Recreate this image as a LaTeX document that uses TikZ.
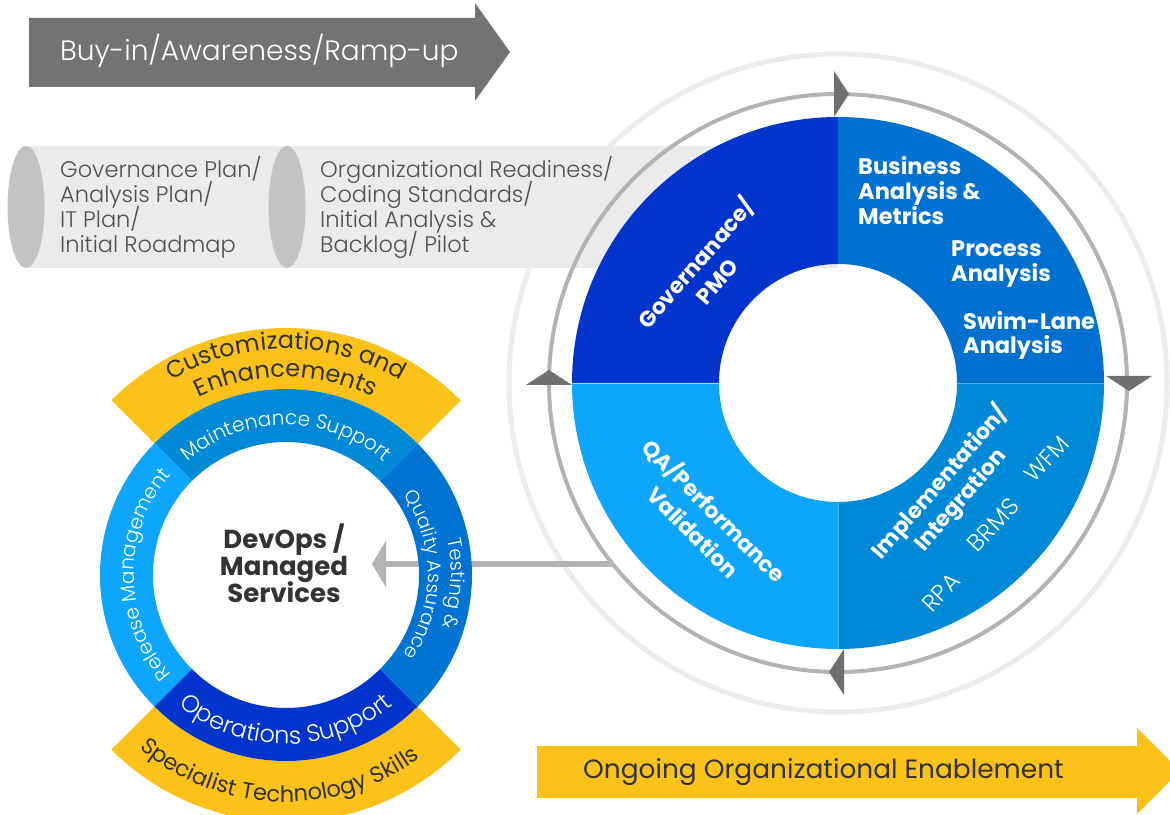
\documentclass[tikz,border=0pt]{standalone}
\usepackage{fontspec}
\setmainfont{Poppins}
\newfontfamily\lightfont{Poppins Light}
\usetikzlibrary{calc,decorations.text,arrows.meta}
\definecolor{grayarrow}{HTML}{737373}
\definecolor{band}{HTML}{EBEBEB}
\definecolor{cylend}{HTML}{C3C3C3}
\definecolor{cyltext}{HTML}{505050}
\definecolor{lightring}{HTML}{ECECEC}
\definecolor{midring}{HTML}{B3B3B3}
\definecolor{ringtip}{HTML}{6F6F6F}
\definecolor{conn}{HTML}{B3B3B3}
\definecolor{yel}{HTML}{FBC219}
\definecolor{dark}{HTML}{333333}
\definecolor{qTL}{HTML}{0034CC}
\definecolor{qTR}{HTML}{0071D1}
\definecolor{qBR}{HTML}{0089D6}
\definecolor{qBL}{HTML}{0EA5FD}
\definecolor{sRT}{HTML}{0073D3}
\tikzset{
  cyltxt/.style={anchor=base west, inner sep=0, text=cyltext, font=\lightfont\fontsize{22.5}{25}\selectfont},
  quadtxt/.style={anchor=base west, inner sep=0, text=white, font=\bfseries\fontsize{22.5}{25}\selectfont},
  rottxt/.style={inner sep=0, text=white, align=center},
  devtxt/.style={anchor=base, inner sep=0, text=dark, font=\bfseries\fontsize{26}{27}\selectfont},
}
\begin{document}
\begin{tikzpicture}[x=1pt,y=1pt]
\useasboundingbox (0,0) rectangle (1170,814);
\coordinate (B) at (838,431);
\coordinate (S) at (286,239);

% ---- cylinder band
\fill[band] (26,546) rectangle (838,668);
\fill[cylend] (26,607) ellipse [x radius=18.5, y radius=61];
\fill[cylend] (287,607) ellipse [x radius=18.5, y radius=61];

% ---- top arrow
\fill[grayarrow] (29,727) -- (475,727) -- (475,713) -- (510,762) -- (475,811) -- (475,796) -- (29,796) -- cycle;
\node[anchor=base west, inner sep=0, text=white, font=\lightfont\fontsize{28}{28}\selectfont] (buyin) at (60,753) {Buy-in/Awareness/Ramp-up};

% ---- bottom arrow
\fill[yel] (537,16) -- (1137,16) -- (1137,0) -- (1180,43) -- (1137,86) -- (1137,68) -- (537,68) -- cycle;
\node[anchor=base west, inner sep=0, text=dark, font=\fontsize{26.4}{26}\selectfont] (ongoing) at (583,35) {Ongoing Organizational Enablement};

% ---- outer light ring
\draw[lightring, line width=5] (B) circle[radius=329];

% ---- cylinder texts
\node[cyltxt] (ca1) at (60,636) {Governance Plan/};
\node[cyltxt] (ca2) at (60,611) {Analysis Plan/};
\node[cyltxt] (ca3) at (60,586) {IT Plan/};
\node[cyltxt] (ca4) at (60,561) {Initial Roadmap};
\node[cyltxt] (cb1) at (320,636) {Organizational Readiness/};
\node[cyltxt] (cb2) at (320,611) {Coding Standards/};
\node[cyltxt] (cb3) at (320,586) {Initial Analysis \&};
\node[cyltxt] (cb4) at (320,561) {Backlog/ Pilot};

% ---- connector
\coordinate (ringpt) at (613,250);
\coordinate (devtip) at (372,250);
\draw[conn, line width=6, -{Triangle[length=14pt,width=46pt]}] (ringpt) -- (devtip);

% ---- small circle: yellow bands
\fill[yel] ($(S)+(45:247)$) arc[start angle=45,end angle=135,radius=247] -- ($(S)+(135:186)$) arc[start angle=135,end angle=45,radius=186] -- cycle;
\fill[yel] ($(S)+(225:247)$) arc[start angle=225,end angle=315,radius=247] -- ($(S)+(315:186)$) arc[start angle=315,end angle=225,radius=186] -- cycle;
% ring segments
\fill[qBR] ($(S)+(45:186)$) arc[start angle=45,end angle=135,radius=186] -- ($(S)+(135:133)$) arc[start angle=135,end angle=45,radius=133] -- cycle;
\fill[qBL] ($(S)+(135:186)$) arc[start angle=135,end angle=225,radius=186] -- ($(S)+(225:133)$) arc[start angle=225,end angle=135,radius=133] -- cycle;
\fill[qTL] ($(S)+(225:186)$) arc[start angle=225,end angle=315,radius=186] -- ($(S)+(315:133)$) arc[start angle=315,end angle=225,radius=133] -- cycle;
\fill[sRT] ($(S)+(315:186)$) arc[start angle=315,end angle=405,radius=186] -- ($(S)+(45:133)$) arc[start angle=45,end angle=-45,radius=133] -- cycle;

% curved labels
\path[decorate, decoration={text along path, text align=center, text color=dark,
  text={|\fontsize{24}{24}\selectfont|Customizations and}}]
  ($(S)+(150:226)$) arc[start angle=150,end angle=30,radius=226];
\path[decorate, decoration={text along path, text align=center, text color=dark,
  text={|\fontsize{24}{24}\selectfont|Enhancements}}]
  ($(S)+(150:198)$) arc[start angle=150,end angle=30,radius=198];
\path[decorate, decoration={text along path, text align=center, text color=white,
  text={|\lightfont\fontsize{20}{20}\selectfont|Maintenance Support}}]
  ($(S)+(150:150)$) arc[start angle=150,end angle=30,radius=150];
\path[decorate, decoration={text along path, text align=center, text color=white,
  text={|\lightfont\fontsize{20}{20}\selectfont|Release Management}}]
  ($(S)+(230:152)$) arc[start angle=230,end angle=130,radius=152];
\path[decorate, decoration={text along path, text align=center, text color=white,
  text={|\lightfont\fontsize{19.5}{19.5}\selectfont|Testing {\&}}}]
  ($(S)+(47:165)$) arc[start angle=47,end angle=-53,radius=165];
\path[decorate, decoration={text along path, text align=center, text color=white,
  text={|\lightfont\fontsize{19}{19}\selectfont|Quality Assurance}}]
  ($(S)+(50:142)$) arc[start angle=50,end angle=-50,radius=142];
\path[decorate, decoration={text along path, text align=center, text color=white,
  text={|\lightfont\fontsize{24}{24}\selectfont|Operations Support}}]
  ($(S)+(220:169)$) arc[start angle=220,end angle=320,radius=169];
\path[decorate, decoration={text along path, text align=center, text color=dark,
  text={|\fontsize{22.5}{22.5}\selectfont|Specialist Technology Skills}}]
  ($(S)+(218:227)$) arc[start angle=218,end angle=318,radius=227];

% center text
\node[devtxt] (dev1) at (284,265) {DevOps /};
\node[devtxt] (dev2) at (284,238) {Managed};
\node[devtxt] (dev3) at (284,211) {Services};

% ---- middle gray ring with arrowheads
\draw[midring, line width=4] (B) circle[radius=289];
\fill[ringtip] (834,743) -- (834,697) -- (849,720) -- cycle;
\fill[ringtip] (1106,438) -- (1152,438) -- (1129,423) -- cycle;
\fill[ringtip] (844,165) -- (844,119) -- (829,142) -- cycle;
\fill[ringtip] (526,429) -- (572,429) -- (549,444) -- cycle;

% ---- quadrants
\fill[qTL] ($(B)+(90:266)$) arc[start angle=90,end angle=180,radius=266] -- ($(B)+(180:119)$) arc[start angle=180,end angle=90,radius=119] -- cycle;
\fill[qTR] ($(B)+(0:266)$) arc[start angle=0,end angle=90,radius=266] -- ($(B)+(90:119)$) arc[start angle=90,end angle=0,radius=119] -- cycle;
\fill[qBR] ($(B)+(270:266)$) arc[start angle=270,end angle=360,radius=266] -- ($(B)+(0:119)$) arc[start angle=0,end angle=-90,radius=119] -- cycle;
\fill[qBL] ($(B)+(180:266)$) arc[start angle=180,end angle=270,radius=266] -- ($(B)+(270:119)$) arc[start angle=270,end angle=180,radius=119] -- cycle;
\draw[white, opacity=0.6, line width=0.8] ($(B)+(180:119)$) -- ($(B)+(180:266)$);
\draw[white, opacity=0.3, line width=0.8] ($(B)+(0:119)$) -- ($(B)+(0:266)$);
\draw[white, opacity=0.3, line width=0.8] ($(B)+(270:119)$) -- ($(B)+(270:266)$);

% quadrant texts
\node[quadtxt] (ba1) at (858,639) {Business};
\node[quadtxt] (ba2) at (858,614) {Analysis \&};
\node[quadtxt] (ba3) at (858,589) {Metrics};
\node[quadtxt] (pa1) at (951,557) {Process};
\node[quadtxt] (pa2) at (951,532) {Analysis};
\node[quadtxt] (sw1) at (963,484) {Swim-Lane};
\node[quadtxt] (sw2) at (963,460) {Analysis};
\node[rottxt, rotate=49, font=\bfseries\fontsize{22}{28}\selectfont] (gov) at (705,543) {Governanace/\\PMO};
\node[rottxt, rotate=-45, font=\bfseries\fontsize{22}{30}\selectfont] (qa) at (705,294) {QA/Performance\\Validation};
\node[rottxt, rotate=49, font=\bfseries\fontsize{22}{27}\selectfont] (impl) at (950,323) {Implementation/\\Integration};
\node[rottxt, rotate=47, font=\lightfont\fontsize{23}{23}\selectfont] (wfm) at (1047,355) {WFM};
\node[rottxt, rotate=47, font=\lightfont\fontsize{24}{24}\selectfont] (brms) at (993,289) {BRMS};
\node[rottxt, rotate=47, font=\lightfont\fontsize{23.5}{23.5}\selectfont] (rpa) at (941,222) {RPA};
\end{tikzpicture}
\end{document}
